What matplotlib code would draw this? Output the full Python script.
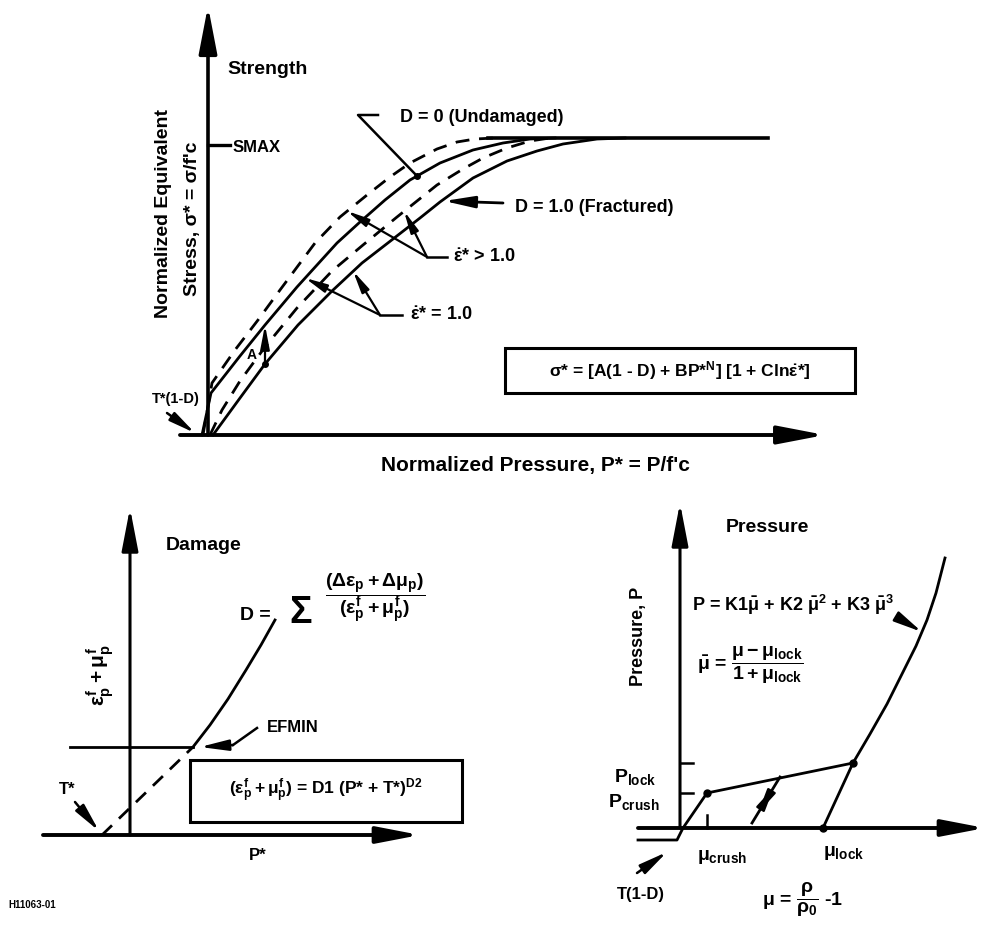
import matplotlib
matplotlib.use('Agg')
import matplotlib.pyplot as plt
from matplotlib.patches import Rectangle

plt.rcParams['font.family'] = ['Liberation Sans', 'DejaVu Sans']
plt.rcParams['font.weight'] = 'bold'
plt.rcParams['mathtext.fontset'] = 'custom'
plt.rcParams['mathtext.rm'] = 'Liberation Sans:bold'
plt.rcParams['mathtext.it'] = 'Liberation Sans:bold'
plt.rcParams['mathtext.bf'] = 'Liberation Sans:bold'
plt.rcParams['mathtext.sf'] = 'Liberation Sans:bold'
plt.rcParams['mathtext.fallback'] = 'stixsans'

# ---- strength curves (P*, sigma*) ----
p_d0 = [-0.06, 0.03, 0.32, 0.57, 0.89, 1.29, 1.52, 1.77, 2.02, 2.32, 2.65, 2.95, 3.22, 3.47]
s_d0 = [0.00, 0.42, 0.79, 1.10, 1.48, 1.92, 2.13, 2.35, 2.55, 2.72, 2.85, 2.92, 2.96, 2.97]
p_d0_fast = [-0.05, 0.04, 0.27, 0.50, 0.72, 1.07, 1.32, 1.59, 1.82, 2.02, 2.29, 2.49, 2.67, 2.87]
s_d0_fast = [0.00, 0.52, 0.85, 1.15, 1.45, 1.92, 2.18, 2.40, 2.58, 2.72, 2.86, 2.93, 2.96, 2.97]
p_d1 = [0.05, 0.32, 0.57, 0.90, 1.24, 1.54, 1.85, 2.12, 2.32, 2.65, 2.99, 3.29, 3.55, 3.89, 4.17]
s_d1 = [0.00, 0.37, 0.71, 1.10, 1.44, 1.72, 1.96, 2.17, 2.33, 2.57, 2.74, 2.84, 2.91, 2.96, 2.97]
p_d1_fast = [0.02, 0.14, 0.32, 0.57, 0.89, 1.24, 1.55, 1.89, 2.29, 2.55, 2.75, 2.99, 3.22, 3.42]
s_d1_fast = [0.00, 0.25, 0.54, 0.88, 1.27, 1.64, 1.90, 2.18, 2.50, 2.66, 2.77, 2.87, 2.94, 2.97]
smax = 2.97
p_smax = [2.80, 5.60]
a_pos = 0.57
a_low, a_high = 0.71, 1.10

# ---- damage ----
tstar = -0.28
efmin = 0.88
p_frac = [0.63, 0.80, 0.98, 1.16, 1.31, 1.45]
e_frac = [0.88, 1.10, 1.36, 1.65, 1.90, 2.15]

# ---- pressure (EOS) ----
mu_eos = [-0.42, -0.03, 0.03, 0.27, 1.73, 1.90, 2.07, 2.23, 2.36, 2.47, 2.56, 2.65]
p_eos = [-0.12, -0.12, 0.00, 0.35, 0.65, 0.94, 1.24, 1.56, 1.82, 2.08, 2.35, 2.70]
mu_crush, p_crush = 0.27, 0.35
mu_lock, p_lock = 1.73, 0.65
mu_lock0 = 1.43
mu_unload = [1.00, 0.72]
p_unload = [0.51, 0.05]

W, H = 988, 936
fig = plt.figure(figsize=(W / 100, H / 100), dpi=100)
LW = 2.0


def panel(x0, x1, y0, y1, ox, oy):
    ax = fig.add_axes([x0 / W, 1 - y1 / H, (x1 - x0) / W, (y1 - y0) / H])
    ax.set_xlim((x0 - ox) / 100, (x1 - ox) / 100)
    ax.set_ylim((oy - y1) / 100, (oy - y0) / 100)
    ax.axis('off')
    return ax


def arrow(ax, start, tip, lw=LW, ms=16, style='-|>,head_length=1.3,head_width=0.25'):
    ax.annotate('', xy=tip, xytext=start,
                arrowprops=dict(arrowstyle=style, lw=lw, color='k',
                                mutation_scale=ms, shrinkA=0, shrinkB=0))


dash = (0, (5, 3.5))

# ================= Strength =================
ax1 = panel(100, 880, 0, 490, 208, 435)
arrow(ax1, (0, 0), (0, 4.29), lw=2.6, ms=22)
arrow(ax1, (-0.28, 0), (6.17, 0), lw=2.8, ms=22)

ax1.plot(p_d0, s_d0, color='k', lw=LW)
ax1.plot(p_d1, s_d1, color='k', lw=LW)
ax1.plot(p_d0_fast, s_d0_fast, color='k', lw=LW, linestyle=dash)
ax1.plot(p_d1_fast, s_d1_fast, color='k', lw=LW, linestyle=dash)
ax1.plot(p_smax, [smax, smax], color='k', lw=2.6)

ax1.plot([0, 0.22], [2.90, 2.90], color='k', lw=2.4)
ax1.text(0.25, 2.88, 'SMAX', fontsize=12, va='center', ha='left')
ax1.text(0.60, 3.65, 'Strength', fontsize=14, va='center', ha='center')

ax1.text(-0.45, 2.22, 'Normalized Equivalent', rotation=90, fontsize=14,
         va='center', ha='center')
ax1.text(-0.16, 2.16, "Stress, \u03c3* = \u03c3/f'c", rotation=90, fontsize=14,
         va='center', ha='center')
ax1.text(3.27, -0.30, "Normalized Pressure, P* = P/f'c", fontsize=15,
         va='center', ha='center')

# D = 0 leader
ax1.plot([1.70, 1.50, 2.09], [3.20, 3.20, 2.59], color='k', lw=1.8)
ax1.plot([2.09], [2.59], 'o', color='k', ms=4)
ax1.text(1.92, 3.17, 'D = 0 (Undamaged)', fontsize=13, va='center', ha='left')

# D = 1 arrow
arrow(ax1, (2.95, 2.32), (2.36, 2.34), lw=2.0, ms=14)
ax1.text(3.07, 2.28, 'D = 1.0 (Fractured)', fontsize=13, va='center', ha='left')

# strain rate leaders
ax1.plot([2.19, 2.39], [1.78, 1.78], color='k', lw=1.8)
arrow(ax1, (2.19, 1.78), (1.39, 2.24), lw=1.6, ms=10)
arrow(ax1, (2.19, 1.78), (1.96, 2.24), lw=1.6, ms=10)
ax1.text(2.45, 1.78, r'$\dot{\varepsilon}$* > 1.0', fontsize=13, va='center', ha='left')

ax1.plot([1.72, 1.94], [1.20, 1.20], color='k', lw=1.8)
arrow(ax1, (1.72, 1.20), (0.97, 1.57), lw=1.6, ms=10)
arrow(ax1, (1.72, 1.20), (1.45, 1.64), lw=1.6, ms=10)
ax1.text(2.02, 1.20, r'$\dot{\varepsilon}$* = 1.0', fontsize=13, va='center', ha='left')

# A arrow
arrow(ax1, (a_pos, a_low), (a_pos, a_high), lw=1.6, ms=11)
ax1.plot([a_pos], [a_low], 'o', color='k', ms=4)
ax1.text(0.44, 0.80, 'A', fontsize=10, va='center', ha='center')

# T*(1-D)
ax1.text(-0.32, 0.36, 'T*(1-D)', fontsize=10.5, va='center', ha='center')
arrow(ax1, (-0.41, 0.22), (-0.13, 0.02), lw=1.8, ms=12)

ax1.add_patch(Rectangle((2.97, 0.42), 3.50, 0.45, fill=False, lw=2.2, color='k'))
ax1.text(4.72, 0.645,
         r'$\sigma$* = [A(1 - D) + BP*$^{N}$] [1 + Cln$\dot{\varepsilon}$*]',
         fontsize=12.5, va='center', ha='center')

# ================= Damage =================
ax2 = panel(0, 520, 490, 936, 130, 835)
arrow(ax2, (0, 0), (0, 3.27), lw=2.2, ms=20)
arrow(ax2, (-0.87, 0), (2.90, 0), lw=2.8, ms=20)

ax2.plot([tstar, p_frac[0]], [0, e_frac[0]], color='k', lw=LW, linestyle=dash)
ax2.plot(p_frac, e_frac, color='k', lw=LW)
ax2.plot([-0.60, p_frac[0]], [efmin, efmin], color='k', lw=LW)

ax2.text(0.74, 2.90, 'Damage', fontsize=14, va='center', ha='center')
ax2.text(-0.30, 1.60, r'$\varepsilon_p^f + \mu_p^f$', rotation=90, fontsize=15,
         va='center', ha='center')
ax2.text(1.28, -0.20, 'P*', fontsize=12, va='center', ha='center')

ax2.plot([1.27, 1.03], [1.07, 0.90], color='k', lw=1.8)
arrow(ax2, (1.03, 0.90), (0.70, 0.88), lw=1.8, ms=13)
ax2.text(1.37, 1.08, 'EFMIN', fontsize=12, va='center', ha='left')

ax2.text(-0.63, 0.45, 'T*', fontsize=12, va='center', ha='center')
arrow(ax2, (-0.55, 0.33), (-0.31, 0.04), lw=1.8, ms=13)

ax2.text(1.10, 2.20, 'D =', fontsize=14, va='center', ha='left')
ax2.text(1.71, 2.22, '\u03a3', fontsize=27, va='center', ha='center')
ax2.text(2.45, 2.37,
         r'$\dfrac{(\Delta\varepsilon_p + \Delta\mu_p)}{(\varepsilon_p^f + \mu_p^f)}$',
         fontsize=14, va='center', ha='center')

ax2.add_patch(Rectangle((0.60, 0.13), 2.72, 0.62, fill=False, lw=2.2, color='k'))
ax2.text(1.96, 0.44, r'$(\varepsilon_p^f + \mu_p^f)$ = D1 (P* + T*)$^{D2}$',
         fontsize=12.5, va='center', ha='center')

ax2.text(-1.22, -0.70, 'H11063-01', fontsize=7, va='center', ha='left')

# ================= Pressure =================
ax3 = panel(560, 988, 490, 936, 680, 828)
arrow(ax3, (0, 0), (0, 3.25), lw=2.2, ms=20)
arrow(ax3, (-0.42, 0), (3.05, 0), lw=2.8, ms=20)

ax3.plot(mu_eos, p_eos, color='k', lw=LW)
ax3.plot([mu_lock, mu_lock0], [p_lock, 0], color='k', lw=LW)
ax3.plot([mu_crush, mu_lock, mu_lock0], [p_crush, p_lock, 0], 'o', color='k', ms=5)

ax3.plot(mu_unload, p_unload, color='k', lw=LW)
arrow(ax3, (0.86, 0.28), (0.94, 0.41), lw=1.6, ms=11)
arrow(ax3, (0.86, 0.28), (0.78, 0.15), lw=1.6, ms=11)

ax3.plot([0.0, 0.13], [p_lock, p_lock], color='k', lw=1.8)
ax3.plot([0.0, 0.13], [p_crush, p_crush], color='k', lw=1.8)
ax3.plot([mu_crush, mu_crush], [0, 0.13], color='k', lw=1.8)

ax3.text(-0.23, 0.51, r'P$_{\mathrm{lock}}$', fontsize=14, va='center', ha='right')
ax3.text(-0.20, 0.26, r'P$_{\mathrm{crush}}$', fontsize=14, va='center', ha='right')
ax3.text(0.17, -0.29, r'$\mu_{\mathrm{crush}}$', fontsize=14, va='center', ha='left')
ax3.text(1.43, -0.25, r'$\mu_{\mathrm{lock}}$', fontsize=14, va='center', ha='left')

ax3.text(-0.39, -0.67, 'T(1-D)', fontsize=12, va='center', ha='center')
arrow(ax3, (-0.43, -0.45), (-0.13, -0.24), lw=1.8, ms=13)
ax3.text(1.23, -0.72, r'$\mu$ = $\dfrac{\rho}{\rho_0}$ -1', fontsize=14,
         va='center', ha='center')

ax3.text(0.87, 3.00, 'Pressure', fontsize=14, va='center', ha='center')
ax3.text(-0.42, 1.92, 'Pressure, P', rotation=90, fontsize=13,
         va='center', ha='center')
ax3.text(0.12, 2.23, r'P = K1$\bar{\mu}$ + K2 $\bar{\mu}^2$ + K3 $\bar{\mu}^3$',
         fontsize=13, va='center', ha='left')
arrow(ax3, (2.17, 2.11), (2.42, 1.96), lw=1.8, ms=13)
ax3.text(0.17, 1.63,
         r'$\bar{\mu}$ = $\dfrac{\mu - \mu_{\mathrm{lock}}}{1 + \mu_{\mathrm{lock}}}$',
         fontsize=14, va='center', ha='left')

fig.savefig('out.png', dpi=100, facecolor='white')
